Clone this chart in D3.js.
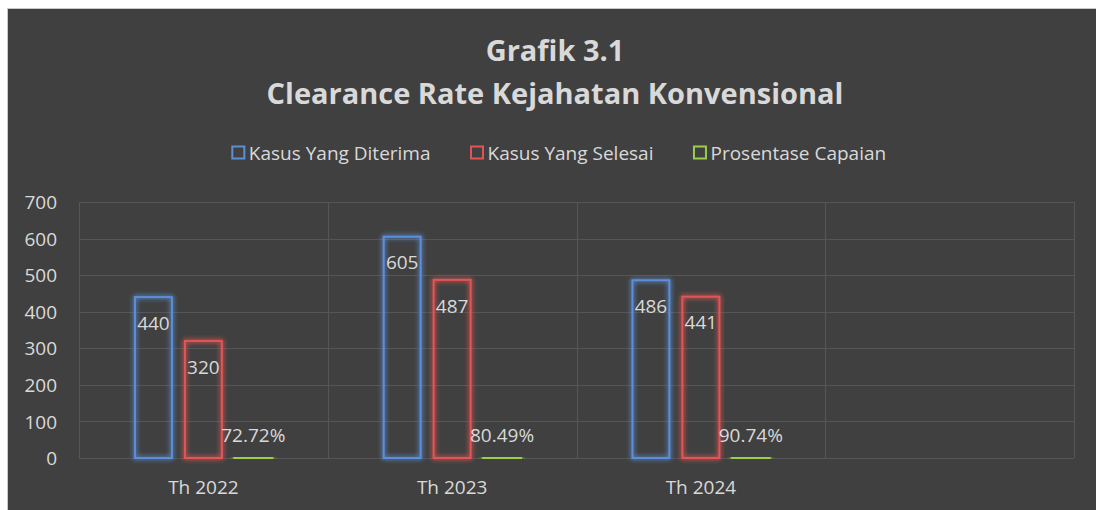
<!DOCTYPE html>
<html>
<head>
<meta charset="utf-8">
<script src="https://cdn.jsdelivr.net/npm/d3@7/dist/d3.min.js"></script>
<style>
  html, body { margin: 0; padding: 0; background: #ffffff; }
  svg { display: block; }
  text { font-family: "Open Sans", "Noto Sans", sans-serif; }
</style>
</head>
<body>
<svg id="chart" width="1096" height="510"></svg>
<script>
// ---- data ----
const categories = ["Th 2022", "Th 2023", "Th 2024", ""];
const seriesNames = ["Kasus Yang Diterima", "Kasus Yang Selesai", "Prosentase Capaian"];
const diterima = [440, 605, 486, null];
const selesai = [320, 487, 441, null];
const capaian = [0.7272, 0.8049, 0.9074, null];
const yTicks = [0, 100, 200, 300, 400, 500, 600, 700];
const titleLines = ["Grafik 3.1", "Clearance Rate Kejahatan Konvensional"];

const colors = ["#5b8fd8", "#e35555", "#9acd4a"];
const seriesValues = [diterima, selesai, capaian];
const isPercent = [false, false, true];

const svg = d3.select("#chart");
const W = 1096, H = 510;

// glow filter
const defs = svg.append("defs");
const f = defs.append("filter").attr("id", "glow").attr("x", "-50%").attr("y", "-50%").attr("width", "200%").attr("height", "200%");
f.append("feGaussianBlur").attr("in", "SourceGraphic").attr("stdDeviation", 2.8).attr("result", "b");
f.append("feComponentTransfer").attr("in", "b").attr("result", "b2")
  .append("feFuncA").attr("type", "linear").attr("slope", 0.8);
const fm = f.append("feMerge");
fm.append("feMergeNode").attr("in", "b2");
fm.append("feMergeNode").attr("in", "b2");
fm.append("feMergeNode").attr("in", "SourceGraphic");

// frame
svg.append("rect").attr("x", 7.5).attr("y", 8.5).attr("width", W - 7).attr("height", H - 8)
  .attr("fill", "#404040").attr("stroke", "#c8c8c8").attr("stroke-width", 1);

// scales
const plot = { left: 79, right: 1074, top: 202, bottom: 458 };
const x0 = d3.scaleBand().domain(categories).range([plot.left, plot.right]).paddingInner(0).paddingOuter(0);
const x1 = d3.scaleBand().domain(d3.range(seriesNames.length)).range([0, x0.bandwidth()])
  .paddingInner(0.26).paddingOuter(1.12);
const y = d3.scaleLinear().domain([0, 700]).range([plot.bottom, plot.top]);

// gridlines
const grid = svg.append("g");
grid.selectAll("line.h").data(yTicks).join("line")
  .attr("x1", plot.left).attr("x2", plot.right)
  .attr("y1", d => Math.round(y(d)) + 0.5).attr("y2", d => Math.round(y(d)) + 0.5)
  .attr("stroke", "#555555").attr("stroke-width", 1.2);
const vb = categories.map(c => x0(c)).concat([plot.right]);
grid.selectAll("line.v").data(vb).join("line")
  .attr("x1", d => Math.round(d) + 0.5).attr("x2", d => Math.round(d) + 0.5)
  .attr("y1", plot.top).attr("y2", plot.bottom)
  .attr("stroke", "#555555").attr("stroke-width", 1.2);

// y axis
const yAxis = d3.axisLeft(y).tickValues(yTicks).tickSize(0).tickPadding(0);
const yg = svg.append("g").attr("transform", `translate(57,0)`).call(yAxis);
yg.select(".domain").remove();
yg.selectAll("text").attr("fill", "#d9d9d9").style("font-size", "19px")
  .style("font-family", "'Open Sans', sans-serif").attr("dy", "0.35em");

// x axis
const xAxis = d3.axisBottom(x0).tickSize(0).tickPadding(0);
const xg = svg.append("g").attr("transform", `translate(0,${plot.bottom})`).call(xAxis);
xg.select(".domain").remove();
xg.selectAll("text").attr("fill", "#d9d9d9").style("font-size", "19px")
  .style("font-family", "'Open Sans', sans-serif").attr("y", 29).attr("dy", "0.35em");

// bars
const barData = [];
categories.forEach((c, ci) => {
  seriesValues.forEach((vals, si) => {
    if (vals[ci] != null) barData.push({ c, si, v: vals[ci] });
  });
});
const bars = svg.append("g");
bars.selectAll("rect").data(barData).join("rect")
  .attr("x", d => x0(d.c) + x1(d.si))
  .attr("y", d => y(d.v))
  .attr("width", x1.bandwidth())
  .attr("height", d => Math.max(0.01, y(0) - y(d.v)))
  .attr("fill", "none")
  .attr("stroke", d => colors[d.si]).attr("stroke-width", d => isPercent[d.si] ? 3 : 2)
  .attr("filter", "url(#glow)");

// labels
const fmtPct = d3.format(".2%");
svg.append("g").selectAll("text").data(barData).join("text")
  .attr("x", d => x0(d.c) + x1(d.si) + x1.bandwidth() / 2)
  .attr("y", d => Math.min(y(d.v) + 26, y(0) - 23))
  .attr("dy", "0.35em")
  .attr("text-anchor", "middle")
  .attr("fill", "#d9d9d9")
  .style("font-size", "19px")
  .text(d => isPercent[d.si] ? fmtPct(d.v) : d.v);

// title
svg.append("g").selectAll("text").data(titleLines).join("text")
  .attr("x", 555).attr("y", (d, i) => i === 0 ? 61 : 104)
  .attr("text-anchor", "middle").attr("fill", "#d9d9d9")
  .style("font-size", "29px").style("font-weight", "bold")
  .text(d => d);

// legend
const lg = svg.append("g");
const items = lg.selectAll("g").data(seriesNames).join("g");
items.append("rect").attr("x", 0.5).attr("y", -6.5).attr("width", 12).attr("height", 12)
  .attr("fill", "none").attr("stroke", (d, i) => colors[i]).attr("stroke-width", 2);
items.append("text").attr("x", 17).attr("y", 0).attr("dy", "0.35em")
  .attr("fill", "#d9d9d9").style("font-size", "19px").text(d => d);
const gap = 40;
const widths = [];
items.each(function () {
  const w = 17 + d3.select(this).select("text").node().getComputedTextLength();
  widths.push(w);
});
const total = d3.sum(widths) + gap * (widths.length - 1);
let start = 559 - total / 2;
items.attr("transform", (d, i) => {
  const t = `translate(${start},153)`;
  start += widths[i] + gap;
  return t;
});
</script>
</body>
</html>
